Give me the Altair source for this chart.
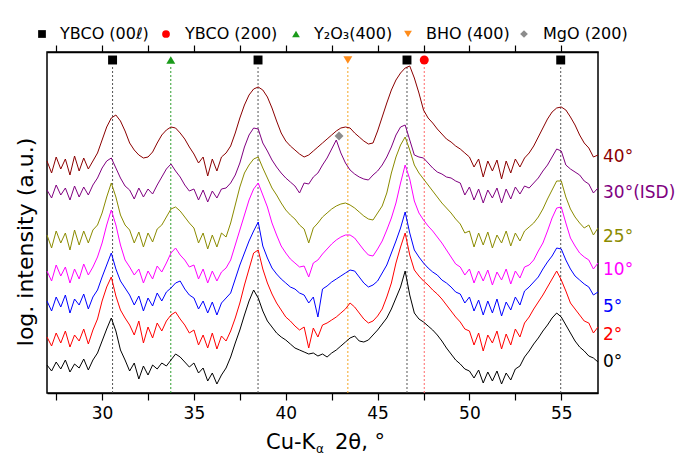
import altair as alt
import pandas as pd

# ---- data ----
two_theta = [27 + 0.25 * i for i in range(121)]

samples = ["0°", "2°", "5°", "10°", "25°", "30°(ISD)", "40°"]
sample_colors = ["#000000", "#FF0000", "#0000FF", "#FF00FF", "#8B8B00", "#800080", "#8B0000"]
label_level = [31, 58, 86, 123, 156, 200, 236]

i_0 = [28, 22, 31, 24, 33, 21, 29, 25, 34, 23, 33, 40, 52, 64, 75, 62, 43, 33, 22, 30,
       14, 27, 18, 28, 24, 30, 27, 33, 39, 36, 31, 26, 30, 20, 25, 12, 20, 9, 18, 25,
       36, 50, 63, 78, 92, 103, 95, 82, 72, 66, 60, 56, 53, 49, 45, 43, 41, 39, 40, 37,
       39, 36, 40, 43, 47, 51, 55, 57, 52, 51, 53, 58, 63, 69, 75, 84, 95, 106, 122, 98,
       80, 74, 71, 67, 63, 58, 52, 45, 39, 33, 29, 24, 22, 15, 23, 10, 21, 12, 22, 9,
       20, 13, 24, 27, 36, 42, 49, 55, 62, 68, 75, 80, 76, 68, 60, 52, 46, 42, 37, 35, 31]
i_2 = [56, 47, 60, 50, 62, 46, 58, 52, 64, 49, 63, 74, 92, 106, 116, 97, 83, 75, 68, 58,
       72, 50, 66, 55, 70, 62, 72, 78, 81, 74, 68, 60, 63, 48, 58, 45, 60, 44, 57, 52,
       62, 75, 90, 108, 124, 140, 143, 124, 110, 99, 90, 83, 76, 72, 67, 63, 66, 45, 65, 56,
       68, 70, 73, 76, 80, 84, 90, 86, 80, 74, 70, 72, 77, 84, 96, 110, 130, 146, 160, 138,
       123, 117, 112, 108, 103, 99, 94, 88, 82, 76, 71, 64, 62, 48, 60, 42, 58, 50, 62, 44,
       59, 48, 64, 56, 70, 76, 84, 91, 98, 106, 114, 122, 113, 102, 90, 84, 78, 72, 70, 60, 66]
i_5 = [92, 82, 96, 86, 98, 80, 94, 88, 99, 84, 96, 103, 116, 128, 140, 124, 112, 105, 98, 88,
       97, 82, 95, 87, 100, 92, 101, 105, 110, 112, 104, 98, 95, 84, 92, 80, 91, 78, 90, 95,
       100, 114, 128, 140, 152, 162, 171, 147, 135, 125, 119, 114, 110, 106, 104, 100, 98, 90, 96, 76,
       104, 107, 111, 114, 117, 120, 123, 122, 116, 110, 106, 108, 112, 120, 128, 140, 152, 165, 181, 160,
       143, 136, 130, 125, 121, 118, 113, 110, 106, 101, 99, 90, 96, 82, 93, 78, 92, 80, 94, 77,
       91, 83, 96, 88, 102, 106, 111, 116, 124, 131, 137, 145, 144, 133, 124, 117, 113, 109, 106, 98, 101]
i_10 = [122, 112, 128, 117, 126, 110, 124, 114, 129, 118, 126, 136, 150, 168, 183, 168, 148, 133, 126, 118,
        124, 110, 122, 114, 127, 121, 130, 140, 145, 138, 133, 126, 128, 114, 124, 110, 122, 112, 121, 125,
        133, 148, 163, 178, 193, 204, 210, 198, 186, 170, 158, 147, 140, 134, 130, 126, 127, 116, 130, 133,
        139, 144, 149, 153, 156, 158, 158, 155, 149, 143, 138, 137, 144, 152, 163, 175, 190, 210, 228, 214,
        192, 180, 173, 167, 162, 156, 150, 143, 136, 129, 126, 118, 124, 110, 122, 112, 123, 108, 121, 113,
        124, 109, 122, 115, 126, 128, 133, 142, 150, 162, 175, 185, 186, 170, 155, 147, 140, 136, 133, 124, 130]
i_25 = [158, 145, 162, 150, 160, 143, 163, 148, 162, 150, 163, 168, 180, 196, 210, 196, 178, 168, 163, 150,
        161, 146, 160, 151, 164, 168, 176, 184, 186, 182, 176, 170, 165, 150, 160, 144, 158, 146, 160, 156,
        170, 188, 206, 220, 228, 234, 236, 225, 215, 205, 198, 190, 183, 178, 174, 168, 164, 150, 165, 170,
        176, 180, 184, 187, 189, 190, 188, 185, 181, 177, 174, 173, 180, 187, 200, 220, 236, 248, 256, 243,
        228, 220, 214, 208, 202, 196, 190, 185, 180, 174, 169, 160, 162, 146, 160, 148, 161, 145, 158, 150,
        162, 147, 160, 152, 162, 166, 170, 176, 184, 194, 203, 212, 212, 196, 184, 176, 170, 165, 168, 158, 165]
i_30 = [203, 195, 208, 198, 205, 193, 207, 196, 206, 198, 208, 215, 225, 232, 235, 225, 215, 207, 203, 194,
        205, 196, 204, 199, 208, 216, 224, 229, 222, 216, 208, 202, 204, 193, 203, 191, 202, 195, 204, 205,
        210, 218, 230, 246, 258, 265, 264, 250, 242, 233, 226, 220, 215, 211, 207, 200, 210, 209, 216, 220,
        228, 235, 244, 253, 240, 230, 223, 219, 216, 214, 213, 218, 222, 228, 236, 246, 258, 266, 268, 253,
        238, 236, 235, 230, 225, 221, 219, 216, 215, 212, 210, 198, 206, 193, 204, 190, 203, 195, 205, 190,
        204, 194, 206, 199, 207, 205, 210, 215, 222, 228, 236, 244, 242, 228, 224, 221, 218, 212, 209, 200, 205]
i_40 = [232, 220, 236, 224, 234, 218, 237, 222, 235, 224, 232, 240, 253, 266, 275, 278, 272, 262, 250, 243,
        238, 235, 236, 241, 250, 258, 263, 266, 265, 260, 254, 246, 239, 230, 236, 217, 234, 222, 236, 240,
        247, 260, 275, 288, 298, 304, 306, 303, 296, 285, 272, 260, 252, 247, 243, 239, 236, 238, 242, 246,
        250, 254, 258, 262, 265, 266, 265, 260, 256, 252, 249, 250, 262, 276, 290, 303, 313, 320, 325, 327,
        315, 300, 283, 275, 270, 264, 259, 254, 251, 247, 244, 240, 236, 226, 234, 216, 232, 222, 233, 214,
        232, 220, 234, 226, 235, 240, 247, 256, 265, 274, 281, 285, 286, 283, 276, 268, 258, 250, 245, 236, 238]
intensities = [i_0, i_2, i_5, i_10, i_25, i_30, i_40]

phases = ["YBCO (00ℓ)", "YBCO (200)", "Y₂O₃(400)", "BHO (400)", "MgO (200)"]
phase_colors = ["#000000", "#FF0000", "#1A9A1A", "#FF8C1A", "#8C8C8C"]
phase_shapes = ["square", "circle", "triangle-up", "triangle-down", "diamond"]
rule_colors = ["#555555", "#FF6A6A", "#2E9E2E", "#F5A623", "#8C8C8C"]

line_pos = [30.57, 33.74, 38.49, 43.38, 46.6, 47.54, 54.97]
line_phase = ["YBCO (00ℓ)", "Y₂O₃(400)", "YBCO (00ℓ)", "BHO (400)", "YBCO (00ℓ)", "YBCO (200)", "YBCO (00ℓ)"]

marker_pos = [30.57, 33.74, 38.49, 43.38, 46.6, 47.54, 54.97, 42.9]
marker_level = [333, 333, 333, 333, 333, 333, 333, 257]
marker_phase = line_phase + ["MgO (200)"]

tick_values = [27.5, 30, 32.5, 35, 37.5, 40, 42.5, 45, 47.5, 50, 52.5, 55]

# ---- layout constants (pixels, relative to the plot area) ----
legend_symbol_px = [-5, 119, 249, 361, 477]
legend_label_px = [13, 138, 267, 379, 496]
legend_row_px = -18

# ---- tables ----
rows = []
for s, vals in zip(samples, intensities):
    for x, v in zip(two_theta, vals):
        rows.append({"two_theta": x, "h": v, "sample": s})
df = pd.DataFrame(rows)
rule_df = pd.DataFrame({"pos": line_pos, "phase": line_phase})
mk_df = pd.DataFrame({"pos": marker_pos, "h": marker_level, "phase": marker_phase})
lab_df = pd.DataFrame({"sample": samples, "h": label_level})

FONT = "DejaVu Sans"
xs = alt.Scale(domain=[27, 57], nice=False, zero=False)
ys = alt.Scale(domain=[0, 341], nice=False, zero=False)
color_scale = alt.Scale(domain=samples, range=sample_colors)

bottom_axis = alt.Axis(values=tick_values, labelExpr="datum.value % 5 == 0 ? datum.label : ''",
                       format="d", title=None, grid=False, tickSize=7, tickWidth=1.2,
                       tickColor="black", domainColor="black", domainWidth=1.5,
                       labelFont=FONT, labelFontSize=17, labelColor="black",
                       labelPadding=5, labelOverlap=False, labelFlush=False)
top_axis = alt.Axis(orient="top", values=tick_values, labels=False, title=None, grid=False,
                    tickSize=7, tickWidth=1.2, tickColor="black", domainColor="black",
                    domainWidth=1.5)
left_axis = alt.Axis(title=None, labels=False, ticks=False, grid=False,
                     domainColor="black", domainWidth=1.5)

rules = alt.Chart(rule_df).mark_rule(strokeDash=[2, 2], strokeWidth=1).encode(
    x=alt.X("pos:Q", scale=xs, axis=None),
    y=alt.Y(datum=0, scale=ys, axis=None),
    y2=alt.Y2(datum=328),
    stroke=alt.Stroke("phase:N", scale=alt.Scale(domain=phases, range=rule_colors), legend=None),
)

traces = alt.Chart(df).mark_line(strokeWidth=1).encode(
    x=alt.X("two_theta:Q", scale=xs, axis=bottom_axis),
    y=alt.Y("h:Q", scale=ys, axis=left_axis),
    color=alt.Color("sample:N", scale=color_scale, legend=None),
)

markers = alt.Chart(mk_df).mark_point(filled=True, opacity=1, size=80).encode(
    x=alt.X("pos:Q", scale=xs, axis=top_axis),
    y=alt.Y("h:Q", scale=ys, axis=None),
    fill=alt.Fill("phase:N", scale=alt.Scale(domain=phases, range=phase_colors), legend=None),
    shape=alt.Shape("phase:N", scale=alt.Scale(domain=phases, range=phase_shapes), legend=None),
)

labels = alt.Chart(lab_df).mark_text(align="left", baseline="middle", dx=5, fontSize=17, font=FONT).encode(
    x=alt.X(datum=57, scale=xs, axis=None),
    y=alt.Y("h:Q", scale=ys, axis=None),
    text="sample:N",
    color=alt.Color("sample:N", scale=color_scale, legend=None),
)

# legend drawn above the frame
legend_layers = []
for ph, col, shp, sx, lx in zip(phases, phase_colors, phase_shapes, legend_symbol_px, legend_label_px):
    one = pd.DataFrame({"t": [ph]})
    legend_layers.append(
        alt.Chart(one).mark_point(filled=True, opacity=1, size=60, shape=shp, color=col).encode(
            x=alt.value(sx), y=alt.value(legend_row_px)))
    legend_layers.append(
        alt.Chart(one).mark_text(align="left", baseline="middle", fontSize=16, font=FONT,
                                 color="black").encode(
            text="t:N", x=alt.value(lx), y=alt.value(legend_row_px)))

# axis titles
ytitle = alt.Chart(pd.DataFrame({"t": ["log. intensity (a.u.)"]})).mark_text(
    align="center", baseline="alphabetic", angle=270, fontSize=22, font=FONT, color="black").encode(
    text="t:N", x=alt.value(-14), y=alt.value(190))
t1 = alt.Chart(pd.DataFrame({"t": ["Cu-K"]})).mark_text(
    align="left", baseline="alphabetic", fontSize=21, font=FONT, color="black").encode(
    text="t:N", x=alt.value(219), y=alt.value(397))
t2 = alt.Chart(pd.DataFrame({"t": ["α"]})).mark_text(
    align="left", baseline="alphabetic", fontSize=12, font=FONT, color="black").encode(
    text="t:N", x=alt.value(269), y=alt.value(401))
t3 = alt.Chart(pd.DataFrame({"t": ["2θ, °"]})).mark_text(
    align="left", baseline="alphabetic", fontSize=21, font=FONT, color="black").encode(
    text="t:N", x=alt.value(288), y=alt.value(397))

chart = alt.layer(rules, traces, markers, labels, *legend_layers, ytitle, t1, t2, t3).resolve_axis(
    x="independent"
).properties(
    width=551, height=341,
    padding={"left": 39, "top": 44, "right": 84, "bottom": 65},
    autosize=alt.AutoSizeParams(type="none"),
).configure_view(stroke="black", strokeWidth=1.5)

chart.save("out.html", embed_options={"renderer": "svg", "actions": False})
